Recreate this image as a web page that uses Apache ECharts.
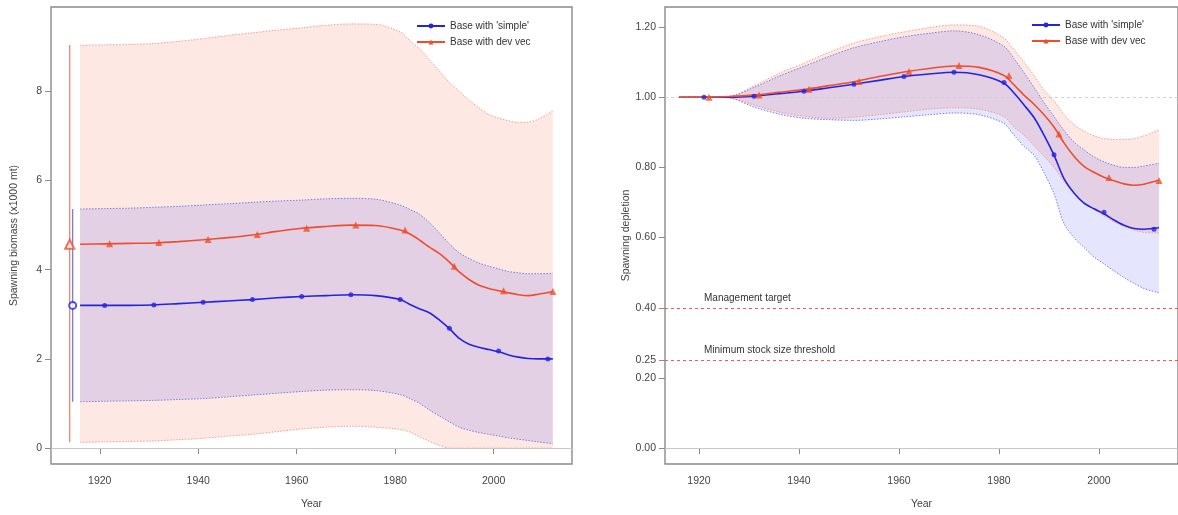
<!DOCTYPE html>
<html>
<head>
<meta charset="utf-8">
<script src="https://cdn.jsdelivr.net/npm/echarts@6.0.0/dist/echarts.min.js"></script>
<style>
  html, body { margin: 0; padding: 0; background: #ffffff; }
  #chart { width: 1178px; height: 515px; }
</style>
</head>
<body>
<div id="chart"></div>
<script>
// ---------------- DATA ----------------
const years = [1916,1921,1926,1931,1936,1941,1946,1951,1956,1961,1966,1971,1976,1981,1983,1985,1987,1989,1991,1993,1995,1997,1999,2001,2003,2005,2007,2009,2012];

// Spawning biomass (x1000 mt)
const sbSimple   = [3.20,3.20,3.20,3.21,3.24,3.27,3.30,3.33,3.37,3.40,3.42,3.44,3.42,3.33,3.22,3.12,3.03,2.87,2.68,2.46,2.33,2.26,2.21,2.16,2.09,2.04,2.01,2.00,2.00];
const sbSimpleLo = [1.04,1.05,1.06,1.07,1.09,1.11,1.15,1.19,1.23,1.27,1.30,1.31,1.29,1.20,1.11,1.00,0.85,0.72,0.59,0.47,0.40,0.35,0.31,0.27,0.23,0.20,0.17,0.14,0.10];
const sbSimpleHi = [5.36,5.37,5.38,5.40,5.42,5.45,5.48,5.51,5.54,5.56,5.59,5.60,5.58,5.45,5.35,5.24,5.05,4.82,4.58,4.38,4.25,4.15,4.08,4.02,3.96,3.93,3.91,3.91,3.92];
const sbDev      = [4.57,4.58,4.59,4.60,4.63,4.67,4.72,4.78,4.86,4.93,4.97,5.00,4.99,4.89,4.80,4.66,4.50,4.36,4.17,3.95,3.78,3.65,3.58,3.53,3.48,3.44,3.42,3.45,3.51];
const sbDevLo    = [0.13,0.14,0.15,0.16,0.19,0.22,0.27,0.31,0.37,0.43,0.47,0.49,0.47,0.42,0.36,0.25,0.15,0.06,0,0,0,0,0,0,0,0,0,0,0];
const sbDevHi    = [9.03,9.04,9.05,9.07,9.12,9.18,9.25,9.31,9.37,9.42,9.48,9.51,9.50,9.33,9.13,8.95,8.70,8.45,8.20,8.00,7.80,7.63,7.48,7.40,7.34,7.30,7.31,7.37,7.56];

// Marker positions
const markYearsSimple = [1921,1931,1941,1951,1961,1971,1981,1991,2001,2011];
const markYearsDev    = [1922,1932,1942,1952,1962,1972,1982,1992,2002,2012];
const sbSimpleMarks = [3.20,3.21,3.27,3.33,3.40,3.44,3.33,2.69,2.18,2.00];
const sbDevMarks    = [4.58,4.61,4.68,4.79,4.93,5.00,4.89,4.08,3.53,3.51];

// Initial (virgin) values with intervals
const initYears = [1913.9, 1914.5];       // dev vec, simple
const initEst   = [4.57, 3.20];
const initLo    = [0.13, 1.04];
const initHi    = [9.04, 5.36];

// Spawning depletion
const depSimple   = [1.000,1.000,1.000,1.003,1.010,1.017,1.027,1.037,1.048,1.059,1.066,1.071,1.064,1.040,1.012,0.978,0.942,0.892,0.835,0.768,0.727,0.698,0.682,0.668,0.650,0.635,0.626,0.624,0.628];
const depSimpleLo = [1.000,1.000,0.998,0.972,0.952,0.940,0.936,0.934,0.938,0.944,0.950,0.955,0.950,0.925,0.892,0.860,0.835,0.785,0.725,0.640,0.600,0.572,0.545,0.525,0.505,0.486,0.470,0.455,0.443];
const depSimpleHi = [1.000,1.000,1.002,1.028,1.060,1.088,1.116,1.141,1.158,1.172,1.182,1.189,1.178,1.145,1.110,1.070,1.028,0.985,0.945,0.905,0.872,0.850,0.830,0.816,0.806,0.800,0.800,0.804,0.812];
const depDev      = [1.000,1.000,1.002,1.006,1.014,1.022,1.033,1.044,1.059,1.072,1.082,1.089,1.085,1.062,1.035,1.006,0.980,0.950,0.915,0.870,0.832,0.803,0.786,0.772,0.762,0.753,0.749,0.752,0.764];
const depDevLo    = [1.000,1.000,0.998,0.978,0.958,0.946,0.940,0.943,0.950,0.958,0.966,0.970,0.966,0.945,0.915,0.892,0.862,0.832,0.800,0.760,0.727,0.700,0.680,0.662,0.645,0.632,0.622,0.615,0.613];
const depDevHi    = [1.000,1.000,1.002,1.032,1.068,1.097,1.128,1.154,1.172,1.186,1.198,1.206,1.202,1.168,1.135,1.100,1.062,1.020,0.990,0.950,0.922,0.903,0.890,0.882,0.880,0.880,0.882,0.890,0.906];
const depSimpleMarks = [1.000,1.003,1.017,1.037,1.059,1.071,1.042,0.836,0.672,0.624];
const depDevMarks    = [1.000,1.006,1.023,1.045,1.073,1.090,1.062,0.895,0.771,0.763];

// Tick labels
const xTicks = [1920,1940,1960,1980,2000];
const yTicksLeft = [0,2,4,6,8];
const yTicksRight = [0,0.20,0.25,0.40,0.60,0.80,1.00,1.20];

const refLines = [
  { value: 0.40, text: 'Management target' },
  { value: 0.25, text: 'Minimum stock size threshold' }
];

const nameSimple = "Base with 'simple'";
const nameDev = 'Base with dev vec';

// ---------------- STYLE ----------------
const FONT = 'Liberation Sans, Arial, sans-serif';
const BLUE = '#2424e0';
const RED = '#ee4e2c';
const BLUE_DOT = '#7c7ce6';
const RED_DOT = '#f2a08c';
const BLUE_FILL = 'rgba(40,40,240,0.12)';
const RED_FILL = 'rgba(250,95,55,0.14)';
const AXIS = '#8a8a8a';
const TXT = '#444';

const pairs = (xs, ys) => xs.map((x, i) => [x, ys[i]]);
// value-first pairs so that stacking happens on the value (y) dimension
const vpairs = (xs, ys) => xs.map((x, i) => [ys[i], x]);
const diff = (hi, lo) => hi.map((v, i) => +(v - lo[i]).toFixed(4));

function bandSeries(idx, lo, hi, lineColor, fill, stack, extra) {
  const base = {
    type: 'line', xAxisIndex: idx, yAxisIndex: idx, stack: stack,
    encode: { x: 1, y: 0 },
    smooth: 0.3, symbol: 'none', silent: true, z: 1,
    lineStyle: { color: lineColor, width: 1, type: [1.5, 1.5] }
  };
  return [
    Object.assign({}, base, { name: stack + '_lo', data: vpairs(years, lo) }, extra || {}),
    Object.assign({}, base, { name: stack + '_band', data: vpairs(years, diff(hi, lo)),
      areaStyle: { color: fill, opacity: 1 } })
  ];
}

function mainLine(idx, name, vals, color, symbol) {
  return {
    type: 'line', name: name, xAxisIndex: idx, yAxisIndex: idx,
    data: pairs(years, vals), smooth: 0.3, symbol: symbol, symbolSize: symbol === 'triangle' ? 7 : 5,
    showSymbol: false, z: 5,
    lineStyle: { color: color, width: 1.6 }, itemStyle: { color: color }
  };
}

function markers(idx, name, xs, vals, color, symbol) {
  return {
    type: 'scatter', name: name, xAxisIndex: idx, yAxisIndex: idx,
    data: pairs(xs, vals), symbol: symbol, symbolSize: symbol === 'triangle' ? 7 : 5,
    itemStyle: { color: color }, z: 6, silent: true
  };
}

const zeroLine = (extra) => ({
  silent: true, symbol: ['none', 'none'], animation: false,
  data: [ { yAxis: 0, lineStyle: { color: '#c8c8c8', width: 1, type: 'solid' }, label: { show: false } } ].concat(extra || [])
});

function xAxis(idx, min, max) {
  return {
    type: 'value', gridIndex: idx, min: min, max: max,
    name: 'Year', nameLocation: 'middle', nameGap: 35,
    nameTextStyle: { color: TXT, fontFamily: FONT, fontSize: 10.5 },
    axisLine: { show: false },
    splitLine: { show: false },
    axisTick: { show: true, customValues: xTicks, length: 6, inside: false, lineStyle: { color: AXIS, width: 1 } },
    axisLabel: { customValues: xTicks, color: TXT, fontFamily: FONT, fontSize: 10.5, margin: 12, formatter: v => String(v) }
  };
}

function yAxis(idx, min, max, ticks, name, fmt) {
  return {
    type: 'value', gridIndex: idx, min: min, max: max,
    name: name, nameLocation: 'middle', nameGap: 31, nameRotate: 90,
    nameTextStyle: { color: TXT, fontFamily: FONT, fontSize: 10.5 },
    axisLine: { show: false },
    splitLine: { show: false },
    axisTick: { show: true, customValues: ticks, length: 6, lineStyle: { color: AXIS, width: 1 } },
    axisLabel: { customValues: ticks, color: TXT, fontFamily: FONT, fontSize: 10.5, margin: 9, formatter: fmt }
  };
}

const errorBars = {
  type: 'custom', xAxisIndex: 0, yAxisIndex: 0, silent: true, z: 4,
  data: initYears.map((x, i) => [x, initLo[i], initHi[i], i]),
  encode: { x: 0, y: [1, 2] },
  renderItem: function (params, api) {
    const x = api.value(0), lo = api.value(1), hi = api.value(2), k = api.value(3);
    const p1 = api.coord([x, lo]), p2 = api.coord([x, hi]);
    return { type: 'line', shape: { x1: p1[0], y1: p1[1], x2: p2[0], y2: p2[1] },
      style: { stroke: k === 0 ? '#f07a5e' : '#7272e2', lineWidth: 1.2 } };
  }
};

const initMarks = [
  { type: 'scatter', xAxisIndex: 0, yAxisIndex: 0, silent: true, z: 6,
    data: [[initYears[0], initEst[0]]], symbol: 'emptyTriangle', symbolSize: 9,
    itemStyle: { color: RED, borderColor: RED, borderWidth: 1.3 } },
  { type: 'scatter', xAxisIndex: 0, yAxisIndex: 0, silent: true, z: 6,
    data: [[initYears[1], initEst[1]]], symbol: 'emptyCircle', symbolSize: 7,
    itemStyle: { color: BLUE, borderColor: BLUE, borderWidth: 1.3 } }
];

const rightRef = refLines.map(r => ({
  yAxis: r.value,
  lineStyle: { color: '#f25a5a', width: 1, type: [3, 3] },
  label: { show: true, formatter: r.text, position: 'insideStartTop', distance: [39, 5],
    color: '#333', fontFamily: FONT, fontSize: 10 }
}));
rightRef.push({ yAxis: 1.0, lineStyle: { color: '#cfcfcf', width: 1, type: [3, 3] }, label: { show: false } });

const leftBands = bandSeries(0, sbDevLo, sbDevHi, RED_DOT, RED_FILL, 'Ldev', { markLine: zeroLine() })
  .concat(bandSeries(0, sbSimpleLo, sbSimpleHi, BLUE_DOT, BLUE_FILL, 'Lsimple'));
const rightBands = bandSeries(1, depDevLo, depDevHi, RED_DOT, RED_FILL, 'Rdev', { markLine: zeroLine(rightRef) })
  .concat(bandSeries(1, depSimpleLo, depSimpleHi, BLUE_DOT, BLUE_FILL, 'Rsimple'));

const legendCommon = {
  orient: 'vertical', itemWidth: 28, itemHeight: 6, itemGap: 6,
  data: [nameSimple, nameDev],
  textStyle: { color: '#333', fontFamily: FONT, fontSize: 10 },
  selectedMode: false
};

const option = {
  animation: false,
  backgroundColor: '#ffffff',
  grid: [
    { left: 51, top: 7, width: 521, height: 461, show: true, borderColor: AXIS, borderWidth: 1.4, backgroundColor: 'transparent', containLabel: false },
    { left: 665, top: 7, width: 523, height: 461, show: true, borderColor: AXIS, borderWidth: 1.4, backgroundColor: 'transparent', containLabel: false }
  ],
  legend: [
    Object.assign({ left: 411, top: 16 }, legendCommon),
    Object.assign({ left: 1026, top: 15 }, legendCommon)
  ],
  xAxis: [ xAxis(0, 1910.1, 2015.9), xAxis(1, 1913.2, 2015.8) ],
  yAxis: [
    yAxis(0, -0.356, 9.89, yTicksLeft, 'Spawning biomass (x1000 mt)', v => String(v)),
    yAxis(1, -0.045, 1.257, yTicksRight, 'Spawning depletion', v => v.toFixed(2))
  ],
  series: [].concat(
    leftBands,
    [errorBars],
    [mainLine(0, nameSimple, sbSimple, BLUE, 'circle'), mainLine(0, nameDev, sbDev, RED, 'triangle')],
    [markers(0, nameSimple, markYearsSimple, sbSimpleMarks, BLUE, 'circle'), markers(0, nameDev, markYearsDev, sbDevMarks, RED, 'triangle')],
    initMarks,
    rightBands,
    [mainLine(1, nameSimple, depSimple, BLUE, 'circle'), mainLine(1, nameDev, depDev, RED, 'triangle')],
    [markers(1, nameSimple, markYearsSimple, depSimpleMarks, BLUE, 'circle'), markers(1, nameDev, markYearsDev, depDevMarks, RED, 'triangle')]
  )
};

const chart = echarts.init(document.getElementById('chart'), null, { renderer: 'canvas' });
chart.setOption(option);
</script>
</body>
</html>
